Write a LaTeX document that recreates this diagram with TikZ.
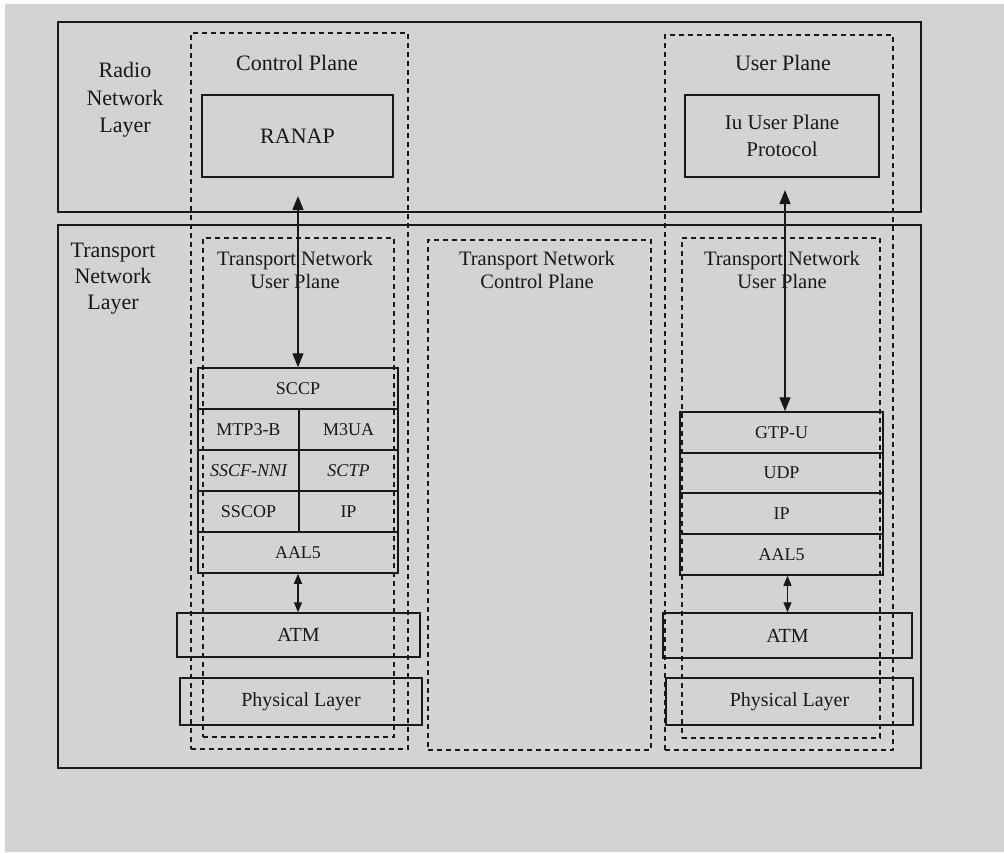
\documentclass[tikz,border=0pt]{standalone}
\usepackage{fontspec}
\setmainfont{Liberation Serif}
\usepackage{xcolor}
\usepackage{tikz}
\usetikzlibrary{arrows.meta}

\definecolor{paper}{RGB}{211,211,211}
\definecolor{ink}{RGB}{24,24,24}

\begin{document}
\begin{tikzpicture}[
    x=1pt, y=-1pt,
    every node/.style={font=\fontsize{22}{26}\selectfont, text=ink},
    layerbox/.style={rectangle, draw=ink, line width=1.8pt, inner sep=0pt},
    planebox/.style={rectangle, draw=ink, line width=1.5pt, dash pattern=on 5pt off 4pt, inner sep=0pt},
    protobox/.style={rectangle, draw=ink, line width=1.5pt, inner sep=0pt, align=center},
    cell/.style={rectangle, draw=ink, line width=1.5pt, inner sep=0pt, minimum height=41pt,
                 font=\fontsize{18}{21}\selectfont},
    lbl/.style={align=center, inner sep=0pt},
    arrow/.style={{Triangle[length=14pt,width=11pt]}-{Triangle[length=14pt,width=11pt]}, line width=1.4pt, draw=ink},
    shortarrow/.style={{Triangle[length=10pt,width=8pt]}-{Triangle[length=10pt,width=8pt]}, line width=1.4pt, draw=ink}
]

% === Paper ===
\fill[white] (0,0) rectangle (1004,852);
\fill[paper] (5,4) rectangle (1004,852);
\useasboundingbox (0,0) rectangle (1004,852);

% === Layers ===
\node[layerbox, minimum width=863pt, minimum height=190pt] (rnl) at (489.5,117) {};
\node[layerbox, minimum width=863pt, minimum height=543pt] (tnl) at (489.5,496.5) {};

\node[lbl, font=\fontsize{22}{27.5}\selectfont] (rnltxt) at (125,100) {Radio\\Network\\Layer};
\node[lbl] (tnltxt) at (113,279) {Transport\\Network\\Layer};

% === Planes ===
\node[planebox, minimum width=217pt, minimum height=716pt] (cp) at (299.5,391) {};
\node[planebox, minimum width=228pt, minimum height=715pt] (up) at (779,392.5) {};
\node[planebox, minimum width=191pt, minimum height=499pt] (tnupL) at (298.5,487.5) {};
\node[planebox, minimum width=223pt, minimum height=510pt] (tncp) at (539.5,495) {};
\node[planebox, minimum width=198pt, minimum height=500pt] (tnupR) at (781,488) {};

\node[lbl] (cptxt) at (297,63) {Control Plane};
\node[lbl] (uptxt) at (783,63) {User Plane};
\node[lbl, font=\fontsize{20.5}{23.5}\selectfont] (tnupLtxt) at (295,270) {Transport Network\\User Plane};
\node[lbl, font=\fontsize{20.5}{23.5}\selectfont] (tncptxt) at (537,270) {Transport Network\\Control Plane};
\node[lbl, font=\fontsize{20.5}{23.5}\selectfont] (tnupRtxt) at (782,270) {Transport Network\\User Plane};

% === Radio network protocols ===
\node[protobox, minimum width=191pt, minimum height=82pt] (ranap) at (297.5,136) {RANAP};
\node[protobox, minimum width=194pt, minimum height=82pt, font=\fontsize{21}{27}\selectfont] (iuup) at (782,136) {Iu User Plane\\Protocol};

% === Control plane stack ===
\node[cell, minimum width=200pt] (sccp) at (298,388.5) {SCCP};
\node[cell, minimum width=101pt] (mtp) at (248.5,429.5) {MTP3-B};
\node[cell, minimum width=99pt] (m3ua) at (348.5,429.5) {M3UA};
\node[cell, minimum width=101pt] (sscf) at (248.5,470.5) {\itshape SSCF-NNI};
\node[cell, minimum width=99pt] (sctp) at (348.5,470.5) {\itshape SCTP};
\node[cell, minimum width=101pt] (sscop) at (248.5,511.5) {SSCOP};
\node[cell, minimum width=99pt] (ipL) at (348.5,511.5) {IP};
\node[cell, minimum width=200pt] (aalL) at (298,552.5) {AAL5};

\node[cell, minimum width=243pt, minimum height=44pt, font=\fontsize{20}{24}\selectfont] (atmL) at (298.5,635) {ATM};
\node[cell, minimum width=242pt, minimum height=47pt, font=\fontsize{20}{24}\selectfont] (physL) at (301,701.5) {Physical Layer};

% === User plane stack ===
\node[cell, minimum width=203pt] (gtpu) at (781.5,432.5) {GTP-U};
\node[cell, minimum width=203pt] (udp) at (781.5,473) {UDP};
\node[cell, minimum width=203pt] (ipR) at (781.5,513.5) {IP};
\node[cell, minimum width=203pt] (aalR) at (781.5,554.5) {AAL5};

\node[cell, minimum width=249pt, minimum height=45pt, font=\fontsize{20}{24}\selectfont] (atmR) at (787.5,635.5) {ATM};
\node[cell, minimum width=247pt, minimum height=47pt, font=\fontsize{20}{24}\selectfont] (physR) at (789.5,701.5) {Physical Layer};

% === Arrows ===
\coordinate (ranapTip) at (298,196);
\coordinate (iuTip) at (785,190);
\draw[arrow] (ranapTip) -- (sccp.north);
\draw[arrow] (iuTip) -- (iuTip |- gtpu.north);
\draw[shortarrow] (aalL.south) -- (aalL.south |- atmL.north);
\draw[shortarrow] ([xshift=6pt]aalR.south) -- ([xshift=6pt]aalR.south |- atmR.north);

\end{tikzpicture}
\end{document}
